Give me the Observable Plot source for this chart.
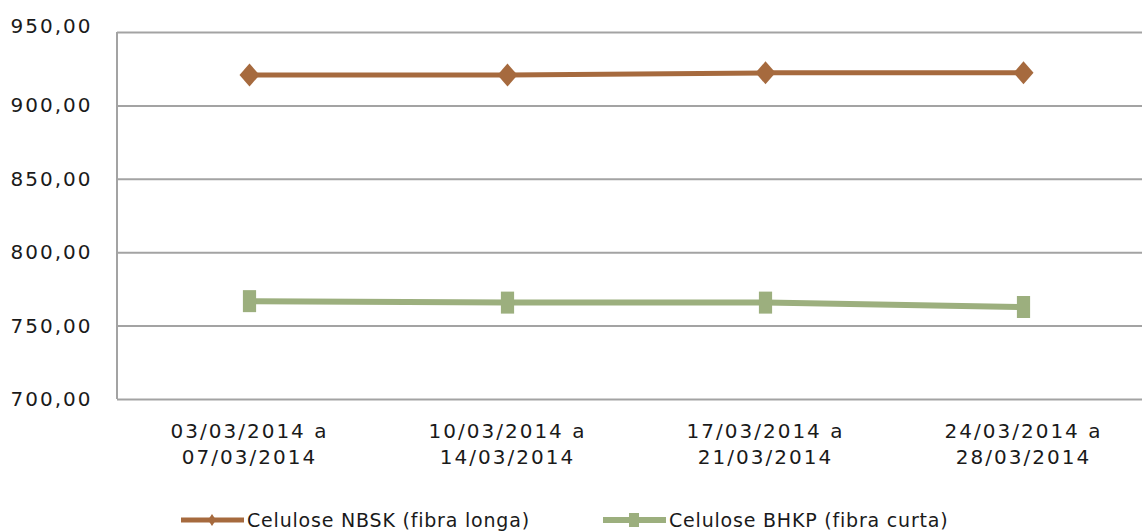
<!DOCTYPE html>
<html>
<head>
<meta charset="utf-8">
<script src="https://cdn.jsdelivr.net/npm/d3@7"></script>
<script src="https://cdn.jsdelivr.net/npm/@observablehq/plot@0.6"></script>
<style>
  body { margin: 0; background: #fff; }
  #wrap { position: relative; width: 1142px; height: 532px; overflow: hidden; font-family: "DejaVu Sans", sans-serif; color: #1a1a1a; }
  #legend { position: absolute; left: 0; top: 504px; width: 1142px; height: 32px; }
  .item { position: absolute; top: 0; height: 32px; display: flex; align-items: center; font-size: 19px; letter-spacing: 0.8px; white-space: nowrap; }
  .item svg { display: block; margin-right: 3px; }
</style>
</head>
<body>
<div id="wrap">
  <div id="chart"></div>
  <div id="legend"></div>
</div>
<script>
// Weekly pulp prices (US$/t), March 2014
const weekStart = ["03/03/2014", "10/03/2014", "17/03/2014", "24/03/2014"];
const weekEnd   = ["07/03/2014", "14/03/2014", "21/03/2014", "28/03/2014"];
const seriesNames = ["Celulose NBSK (fibra longa)", "Celulose BHKP (fibra curta)"];
const nbsk = [921, 921, 922.5, 922.5];
const bhkp = [767, 766, 766, 763];
const yTicks = [700, 750, 800, 850, 900, 950];

const colors = ["#a66a3e", "#9caf7e"];
const weeks = weekStart.map((s, i) => `${s} a\n${weekEnd[i]}`);

const rows = [
  ...weeks.map((w, i) => ({week: w, value: nbsk[i], series: seriesNames[0]})),
  ...weeks.map((w, i) => ({week: w, value: bhkp[i], series: seriesNames[1]}))
];

const ptBR = d3.formatLocale({decimal: ",", thousands: ".", grouping: [3], currency: ["R$ ", ""]});
const fmt = ptBR.format(".2f");

// Custom marker shapes
const diamond = {
  draw(ctx, size) {
    const r = Math.sqrt(size / Math.PI);
    ctx.moveTo(0, -r * 1.15); ctx.lineTo(r, 0); ctx.lineTo(0, r * 1.15); ctx.lineTo(-r, 0); ctx.closePath();
  }
};
const tallSquare = {
  draw(ctx, size) {
    const r = Math.sqrt(size / Math.PI);
    ctx.rect(-0.6 * r, -r, 1.2 * r, 2 * r);
  }
};

const leftAxisLine = (index, scales, values, dims) => {
  const g = d3.create("svg:g");
  g.append("line")
    .attr("x1", dims.marginLeft).attr("x2", dims.marginLeft)
    .attr("y1", dims.marginTop).attr("y2", dims.height - dims.marginBottom)
    .attr("stroke", "#a3a3a3").attr("stroke-width", 2);
  return g.node();
};

const chart = Plot.plot({
  width: 1142,
  height: 480,
  marginLeft: 117,
  marginRight: 0,
  marginTop: 32,
  marginBottom: 81,
  style: {fontFamily: "DejaVu Sans, sans-serif", fontSize: "20px", letterSpacing: "2px", color: "#1a1a1a", background: "white", overflow: "visible"},
  x: {type: "point", domain: weeks, range: [248, 1024], padding: 0},
  y: {domain: [700, 950]},
  marks: [
    Plot.ruleY(yTicks, {stroke: "#a3a3a3", strokeWidth: 2}),
    leftAxisLine,
    Plot.axisY(yTicks.filter(d => d !== 950), {tickSize: 0, tickPadding: 25, tickFormat: fmt, label: null}),
    Plot.axisY([950], {tickSize: 0, tickPadding: 25, tickFormat: fmt, dy: -6, label: null}),
    Plot.axisX({tickSize: 0, tickPadding: 20, lineHeight: 1.3, label: null}),
    Plot.line(rows.filter(d => d.series === seriesNames[1]), {x: "week", y: "value", stroke: colors[1], strokeWidth: 6}),
    Plot.line(rows.filter(d => d.series === seriesNames[0]), {x: "week", y: "value", stroke: colors[0], strokeWidth: 5}),
    Plot.dot(rows.filter(d => d.series === seriesNames[1]), {x: "week", y: "value", symbol: tallSquare, r: 11, fill: colors[1]}),
    Plot.dot(rows.filter(d => d.series === seriesNames[0]), {x: "week", y: "value", symbol: diamond, r: 10, fill: colors[0]})
  ]
});
document.getElementById("chart").append(chart);

// Legend below the chart
const legend = d3.select("#legend");
const legendX = [181, 603];
seriesNames.forEach((name, i) => {
  const item = legend.append("div").attr("class", "item").style("left", legendX[i] + "px");
  const sw = item.append("svg").attr("width", 63).attr("height", 20);
  sw.append("line").attr("x1", 0).attr("x2", 63).attr("y1", 10).attr("y2", 10)
    .attr("stroke", colors[i]).attr("stroke-width", i === 0 ? 5 : 6);
  if (i === 0) {
    sw.append("path").attr("d", "M31,4L35,10L31,16L27,10Z").attr("fill", colors[i]);
  } else {
    sw.append("rect").attr("x", 26).attr("y", 3).attr("width", 10).attr("height", 14).attr("fill", colors[i]);
  }
  item.append("span").text(name);
});
</script>
</body>
</html>
